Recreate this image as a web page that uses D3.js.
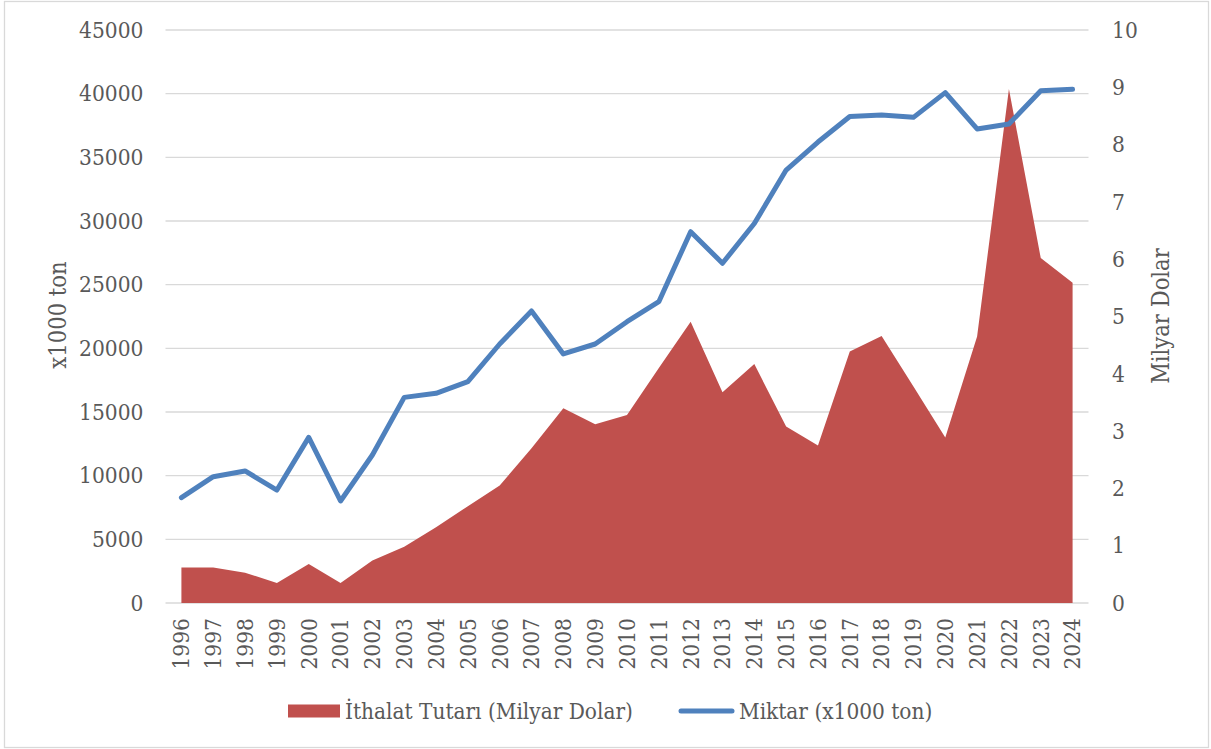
<!DOCTYPE html>
<html lang="tr">
<head>
  <meta charset="UTF-8">
  <title>İthalat</title>
  <script src="https://d3js.org/d3.v7.min.js"></script>
  <style>
    body{
      margin:0;
      background:#fff;
    }
    svg text{
      font-family:"DejaVu Serif Condensed","DejaVu Serif",serif;
      fill:#595959;
    }
  </style>
</head>
<body>
  <svg id="chart"></svg>
  <script>
    const years = ["1996","1997","1998","1999","2000","2001","2002","2003","2004","2005","2006","2007","2008","2009","2010",
      "2011","2012","2013","2014","2015","2016","2017","2018","2019","2020","2021","2022","2023","2024"];
    // İthalat Tutarı (Milyar Dolar) - right axis
    const ithalat = [0.62,0.62,0.53,0.35,0.68,0.35,0.74,0.98,1.32,1.69,2.05,2.70,3.40,3.12,3.28,
      4.10,4.91,3.68,4.17,3.08,2.75,4.39,4.66,3.78,2.89,4.65,8.97,6.02,5.59];
    // Miktar (x1000 ton) - left axis
    const miktar = [8270,9920,10370,8870,13010,8010,11620,16150,16470,17380,20340,22930,19560,20340,22090,
      23660,29160,26680,29800,34000,36200,38210,38320,38140,40080,37230,37620,40230,40340];
    const leftTicks = [0,5000,10000,15000,20000,25000,30000,35000,40000,45000];
    const rightTicks = [0,1,2,3,4,5,6,7,8,9,10];

    const W = 1211, H = 749;
    const margin = {top:30, right:122.5, bottom:146, left:165.5};
    const width = W - margin.left - margin.right;
    const height = H - margin.top - margin.bottom;

    const svg = d3.select("#chart").attr("width", W).attr("height", H);

    // outer frame
    svg.append("rect")
      .attr("x", 4.5).attr("y", 1.5)
      .attr("width", W - 7).attr("height", H - 3)
      .attr("fill", "#fff")
      .attr("stroke", "#d9d9d9")
      .attr("stroke-width", 1.3);

    const g = svg.append("g")
      .attr("transform", "translate(" + margin.left + "," + margin.top + ")");

    const x = d3.scaleBand().domain(years).range([0, width]);
    const cx = d => x(d) + x.bandwidth() / 2;
    const yL = d3.scaleLinear().domain([0, 45000]).range([height, 0]);
    const yR = d3.scaleLinear().domain([0, 10]).range([height, 0]);

    // gridlines (left axis)
    g.append("g").attr("class", "grid")
      .selectAll("line")
      .data(leftTicks)
      .enter().append("line")
      .attr("x1", 0).attr("x2", width)
      .attr("y1", d => yL(d)).attr("y2", d => yL(d))
      .attr("stroke", "#d9d9d9")
      .attr("stroke-width", 1.4);

    // area
    const area = d3.area()
      .x((d, i) => cx(years[i]))
      .y0(yR(0))
      .y1(d => yR(d));
    g.append("path")
      .datum(ithalat)
      .attr("d", area)
      .attr("fill", "#c0504d");

    // line
    const line = d3.line()
      .x((d, i) => cx(years[i]))
      .y(d => yL(d));
    g.append("path")
      .datum(miktar)
      .attr("d", line)
      .attr("fill", "none")
      .attr("stroke", "#4f81bd")
      .attr("stroke-width", 5)
      .attr("stroke-linejoin", "round")
      .attr("stroke-linecap", "round");

    // left axis labels
    const leftAxis = g.append("g")
      .call(d3.axisLeft(yL).tickValues(leftTicks).tickSize(0).tickPadding(22).tickFormat(d3.format("d")));
    leftAxis.select(".domain").remove();
    leftAxis.selectAll("text").attr("font-size", 22.5).attr("fill", "#595959");

    // right axis labels
    const rightAxis = g.append("g")
      .attr("transform", "translate(" + width + ",0)")
      .call(d3.axisRight(yR).tickValues(rightTicks).tickSize(0).tickPadding(23.5));
    rightAxis.select(".domain").remove();
    rightAxis.selectAll("text").attr("font-size", 22.5).attr("fill", "#595959");

    // x axis labels (rotated)
    const xAxis = g.append("g")
      .attr("transform", "translate(0," + height + ")")
      .call(d3.axisBottom(x).tickSize(0));
    xAxis.select(".domain").remove();
    xAxis.selectAll("text")
      .attr("font-size", 22.5)
      .attr("fill", "#595959")
      .attr("transform", "rotate(-90)")
      .attr("text-anchor", "end")
      .attr("x", -15)
      .attr("y", 0)
      .attr("dy", "0.35em");

    // axis titles
    svg.append("text")
      .attr("transform", "translate(58,315) rotate(-90)")
      .attr("text-anchor", "middle")
      .attr("dy", "0.35em")
      .attr("font-size", 23.5)
      .text("x1000 ton");
    svg.append("text")
      .attr("transform", "translate(1161,316) rotate(-90)")
      .attr("text-anchor", "middle")
      .attr("dy", "0.35em")
      .attr("font-size", 23.5)
      .text("Milyar Dolar");

    // legend
    const legend = svg.append("g").attr("transform", "translate(0,711)");
    legend.append("rect")
      .attr("x", 288).attr("y", -6.5)
      .attr("width", 52).attr("height", 13)
      .attr("fill", "#c0504d");
    legend.append("text")
      .attr("x", 345).attr("dy", "0.35em")
      .attr("font-size", 22.4)
      .text("İthalat Tutarı (Milyar Dolar)");
    legend.append("line")
      .attr("x1", 681).attr("x2", 732)
      .attr("stroke", "#4f81bd")
      .attr("stroke-width", 5)
      .attr("stroke-linecap", "round");
    legend.append("text")
      .attr("x", 739).attr("dy", "0.35em")
      .attr("font-size", 22.4)
      .text("Miktar (x1000 ton)");
  </script>
</body>
</html>
